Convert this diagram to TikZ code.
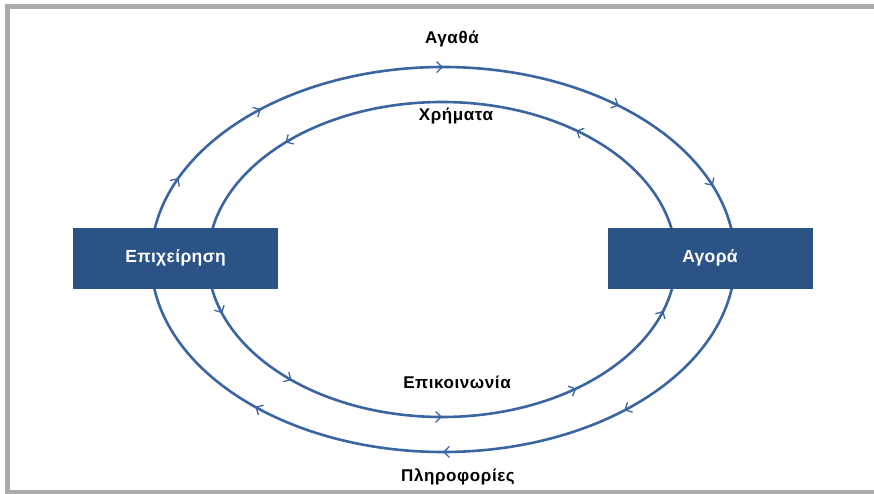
\documentclass[tikz,border=0pt]{standalone}
\usepackage{fontspec}
\setmainfont{Liberation Sans}
\usetikzlibrary{arrows.meta,calc}
\definecolor{boxblue}{HTML}{2C5385}
\definecolor{lineblue}{HTML}{3B65A1}
\definecolor{framegray}{HTML}{ABABAB}
\begin{document}
\begin{tikzpicture}[x=1pt,y=1pt,
  box/.style={fill=boxblue,draw=none,minimum width=205pt,minimum height=61pt,inner sep=0pt,
    text=white,text height=13pt,text depth=4pt,font=\fontsize{17.5}{20}\selectfont\bfseries\addfontfeature{LetterSpace=2}},
  lbl/.style={font=\fontsize{17}{20}\selectfont\bfseries\addfontfeature{LetterSpace=3.5},anchor=base,inner sep=0pt},
  ring/.style={draw=lineblue,line width=2.6pt},
  tip/.style={draw=lineblue,line width=1.3pt,-{Straight Barb[length=5.5pt,width=11pt]}}
]
\useasboundingbox (0,0) rectangle (874,493);
\clip (0,0) rectangle (874,493);
\draw[framegray,line width=5pt] (7.5,1) rectangle (900,486.5);
\coordinate (oc) at (443,233.5);
\coordinate (ic) at (442,233.5);
\draw[ring] (oc) ellipse [x radius=292, y radius=192.5];
\draw[ring] (ic) ellipse [x radius=234, y radius=157.5];
\foreach \t in {155,128.6,90,53,22.5,-51.6,-90,-130}
  \draw[tip] ($(oc)+(\t+2:292 and 192.5)$) -- ($(oc)+(\t:292 and 192.5)$);
\foreach \t in {55,132,200,230,270,305,341}
  \draw[tip] ($(ic)+(\t-2:234 and 157.5)$) -- ($(ic)+(\t:234 and 157.5)$);
\node[box] (biz) at (175.5,234.5) {Επιχείρηση};
\node[box] (mkt) at (710,234.5) {Αγορά};
\node[lbl] (goods) at (452,449.5) {Αγαθά};
\node[lbl] (money) at (456,372.5) {Χρήματα};
\node[lbl] (comm) at (457,104.7) {Επικοινωνία};
\node[lbl] (info) at (458,11.3) {Πληροφορίες};
\end{tikzpicture}
\end{document}
